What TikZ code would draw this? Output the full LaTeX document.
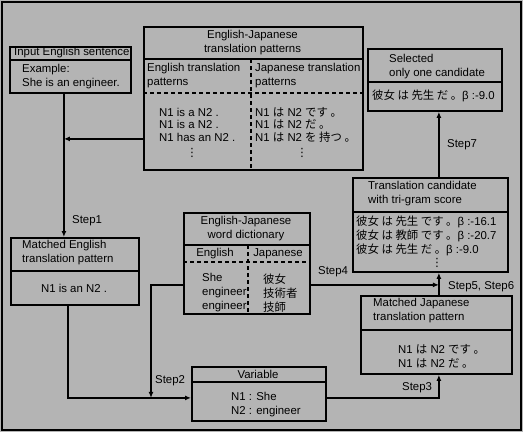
\documentclass[tikz,border=0pt]{standalone}
\usepackage{fontspec}
\setmainfont{Liberation Sans}
\newfontfamily\jp{Noto Sans CJK JP}
\newfontfamily\sym{DejaVu Sans}
\usepackage{tikz}
\usetikzlibrary{arrows.meta, positioning}
\definecolor{panel}{RGB}{180,180,180}
\newcommand{\ja}[1]{{\jp #1}}

\begin{document}
\begin{tikzpicture}[x=1pt, y=-1pt,
  font=\fontsize{11.4}{14}\selectfont,
  box/.style={draw, line width=1.8pt, inner sep=0pt, anchor=north west},
  div/.style={line width=1.8pt},
  dsh/.style={line width=1.8pt, dash pattern=on 4pt off 3pt},
  txt/.style={inner sep=0pt, align=left, anchor=west},
  ttl/.style={inner sep=0pt, align=center},
  dots/.style={inner sep=0pt, font=\sym\fontsize{11.4}{12}\selectfont},
  rel/.style={->, >={Latex[length=6pt, width=5pt]}, line width=1.8pt}
]
\useasboundingbox (0,0) rectangle (523,432);
\fill[panel] (0,0) rectangle (523,432);
\draw[line width=2pt] (2,2) rectangle (521,430);

% boxes
\node[box, minimum width=121pt, minimum height=46pt] (inp) at (9,46) {};
\node[box, minimum width=219pt, minimum height=143pt] (pat) at (143,26) {};
\node[box, minimum width=134pt, minimum height=62pt] (sel) at (367,48) {};
\node[box, minimum width=155pt, minimum height=94pt] (cand) at (352,177) {};
\node[box, minimum width=151pt, minimum height=78pt] (mjp) at (360,295) {};
\node[box, minimum width=128pt, minimum height=67pt] (men) at (10,237) {};
\node[box, minimum width=126pt, minimum height=101pt] (dic) at (183,212) {};
\node[box, minimum width=134pt, minimum height=54pt] (var) at (191,366) {};

\foreach \b/\y in {inp/60, pat/59, sel/82, cand/212, mjp/330, men/271, dic/245, var/382}
  \draw[div] (\b.west |- 0,\y) -- (\b.east |- 0,\y);
\draw[dsh] (pat.west |- 0,93) -- (pat.east |- 0,93);
\draw[dsh] (251,59) -- (pat.south -| 251,0);
\draw[dsh] (dic.west |- 0,262) -- (dic.east |- 0,262);
\draw[dsh] (248,245) -- (dic.south -| 248,0);

% texts
\node[txt] (inpT) at (14,53) {Input English sentence};
\node[txt] (inpX) at (22,76.5) {Example:\\She is an engineer.};
\node[ttl] (patT) at (252.5,42.5) {English-Japanese\\translation patterns};
\node[txt] (patEh) at (147,75.5) {English translation\\patterns};
\node[txt] (patJh) at (255,75.5) {Japanese translation\\patterns};
\node[txt, font=\fontsize{11.4}{12.5}\selectfont] (patE) at (159,124.5) {N1 is a N2 .\\N1 is a N2 .\\N1 has an N2 .};
\node[txt, font=\fontsize{11.4}{12.5}\selectfont] (patJ) at (255,124.5) {N1 \ja{は} N2 \ja{です 。}\\N1 \ja{は} N2 \ja{だ 。}\\N1 \ja{は} N2 \ja{を 持つ 。}};
\node[dots] (patEd) at (192,153) {⋮};
\node[dots] (patJd) at (302,153) {⋮};
\node[txt] (selT) at (389,67) {Selected\\only one candidate};
\node[txt] (selX) at (372,96) {\ja{彼女 は 先生 だ 。}β :-9.0};
\node[txt] (candT) at (368,194) {Translation candidate\\with tri-gram score};
\node[txt] (candX) at (356,236) {\ja{彼女 は 先生 です 。}β :-16.1\\\ja{彼女 は 教師 です 。}β :-20.7\\\ja{彼女 は 先生 だ 。}β :-9.0};
\node[dots] (candD) at (437,263) {⋮};
\node[txt] (mjpT) at (373,311) {Matched Japanese\\translation pattern};
\node[txt] (mjpX) at (398,356.5) {N1 \ja{は} N2 \ja{です 。}\\N1 \ja{は} N2 \ja{だ 。}};
\node[txt] (menT) at (22,253) {Matched English\\translation pattern};
\node[ttl] (menX) at (74,288) {N1 is an N2 .};
\node[ttl] (dicT) at (246,228.5) {English-Japanese\\word dictionary};
\node[ttl] (dicEh) at (215,254) {English};
\node[ttl] (dicJh) at (278,254) {Japanese};
\node[txt] (dicE) at (202,293) {She\\engineer\\engineer};
\node[txt] (dicJ) at (263,293) {\ja{彼女}\\\ja{技術者}\\\ja{技師}};
\node[ttl] (varT) at (258,374) {Variable};
\node[txt] (varX) at (231,404.5) {N1 : She\\N2 : engineer};

% connectors
\coordinate (trunk) at ([xshift=-6.5pt]inp.south);
\coordinate (patOut) at ([yshift=-40.5pt]pat.west);
\coordinate (menOut) at ([xshift=-7pt]men.south);
\coordinate (varIn) at ([yshift=-4pt]var.west);
\coordinate (varOut) at ([yshift=-4pt]var.east);
\coordinate (drop) at ([xshift=8pt]pat.south west);
\coordinate (dicL) at ([yshift=-21.5pt]dic.west);
\coordinate (dicR) at ([yshift=-21.5pt]dic.east);
\coordinate (up) at ([xshift=2.5pt]mjp.north);

\draw[rel] (trunk) -- (trunk |- men.north);
\draw[rel] (patOut) -- (patOut -| trunk);
\draw[rel] (menOut) |- (varIn);
\draw[rel] (dicL) -| (drop |- varIn);
\draw[rel] (dicR) -- (dicR -| up);
\draw[rel] (varOut) -| (mjp.south -| up);
\draw[rel] (up) -- (up |- cand.south);
\draw[rel] (up |- cand.north) -- (up |- sel.south);

% step labels
\node[txt] (s1) at (72,221) {Step1};
\node[txt] (s2) at (155,381) {Step2};
\node[txt] (s3) at (402,388) {Step3};
\node[txt] (s4) at (318,272) {Step4};
\node[txt] (s56) at (448,287) {Step5, Step6};
\node[txt] (s7) at (447,145) {Step7};
\end{tikzpicture}
\end{document}
